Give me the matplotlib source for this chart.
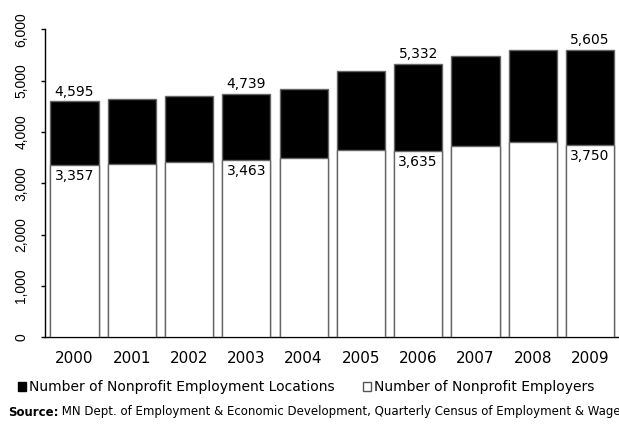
import matplotlib
matplotlib.use("Agg")
import matplotlib.pyplot as plt
from matplotlib.patches import Patch

years = ["2000", "2001", "2002", "2003", "2004", "2005", "2006", "2007", "2008", "2009"]
locations = [4595, 4645, 4698, 4739, 4834, 5191, 5332, 5477, 5600, 5605]
employers = [3357, 3384, 3411, 3463, 3489, 3645, 3635, 3735, 3801, 3750]
labeled = ["2000", "2003", "2006", "2009"]
yticks = [0, 1000, 2000, 3000, 4000, 5000, 6000]

plt.rcParams['font.family'] = ['DejaVu Sans']

fig = plt.figure(figsize=(6.19, 4.25), dpi=100)
W, H = 619, 425
ax = fig.add_axes([45 / W, 1 - 337.3 / H, 1 - 45 / W, (337.3 - 29.3) / H])

x = list(range(len(years)))
bw = 0.84
ax.bar(x, locations, width=bw, color='black', edgecolor='#666666', linewidth=1, zorder=2)
ax.bar(x, employers, width=bw, color='white', edgecolor='#666666', linewidth=1, zorder=3)

for i, yr in enumerate(years):
    if yr in labeled:
        ax.annotate(f"{locations[i]:,}", (i, locations[i]), xytext=(0, 2),
                    textcoords='offset points', ha='center', va='bottom', fontsize=10, zorder=5)
        ax.annotate(f"{employers[i]:,}", (i, employers[i]), xytext=(0, -3),
                    textcoords='offset points', ha='center', va='top', fontsize=10, zorder=5)

ax.set_xlim(-0.515, 9.506)
ax.set_ylim(0, 6000)
ax.set_yticks(yticks)
ax.set_yticklabels([f"{v:,}" for v in yticks], rotation=90, va='center',
                   fontsize=10, family='Liberation Sans')
ax.tick_params(axis='y', length=3, width=1, pad=9)
ax.set_xticks(x)
ax.set_xticklabels(years, fontsize=11)
ax.tick_params(axis='x', length=0, pad=10)
for s in ['top', 'right']:
    ax.spines[s].set_visible(False)
for s in ['left', 'bottom']:
    ax.spines[s].set_color('black')
    ax.spines[s].set_linewidth(1)
ax.set_facecolor('white')

handles = [Patch(facecolor='black', edgecolor='black', label='Number of Nonprofit Employment Locations'),
           Patch(facecolor='white', edgecolor='#555555', label='Number of Nonprofit Employers')]
fig.legend(handles=handles, loc='center left', bbox_to_anchor=(18 / W, 1 - 387 / H),
           ncol=2, frameon=False, fontsize=10, handlelength=0.6, handleheight=0.6,
           handletextpad=0.2, columnspacing=2.0, borderpad=0, borderaxespad=0)

t = fig.text(8 / W, 1 - 412 / H, "Source:", fontsize=8.5, fontweight='bold', va='center')
ax.annotate(" MN Dept. of Employment & Economic Development, Quarterly Census of Employment & Wages",
            xy=(1, 0.5), xycoords=t, va='center', ha='left', fontsize=8.5, annotation_clip=False)

fig.savefig("out.png", dpi=100)
